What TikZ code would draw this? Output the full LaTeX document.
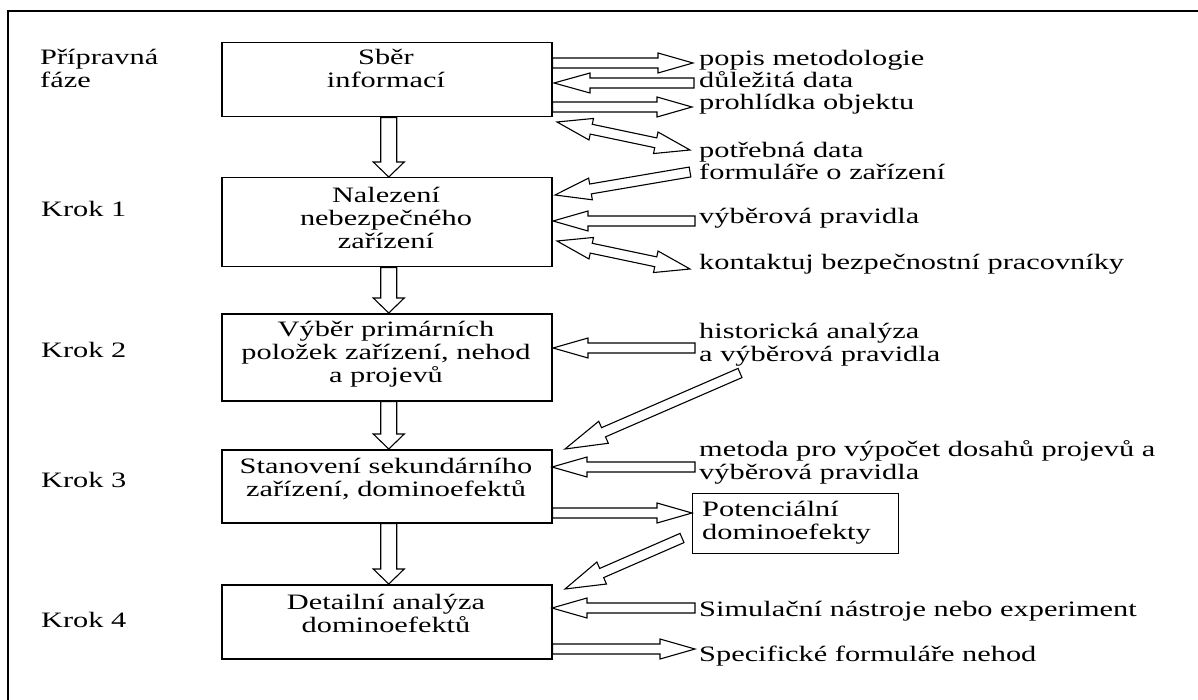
\documentclass[tikz,border=0pt]{standalone}
\usepackage{fontspec}
\setmainfont[FakeStretch=1.38]{Liberation Serif}
\usetikzlibrary{calc}

% Block arrow with one head: tail, tip, head length, shaft half-width, head half-width
\newcommand\singlearrow[5]{%
  \coordinate (hb) at ($(#2)!#3!(#1)$);
  \draw[arrowline] ($(#1)!#4!90:(#2)$) -- ($(hb)!#4!-90:(#1)$) -- ($(hb)!#5!-90:(#1)$)
    -- (#2) -- ($(hb)!#5!90:(#1)$) -- ($(hb)!#4!90:(#1)$) -- ($(#1)!#4!-90:(#2)$) -- cycle;
}
% Block arrow with a head at both ends
\newcommand\doublearrow[5]{%
  \coordinate (ha) at ($(#1)!#3!(#2)$);
  \coordinate (hb) at ($(#2)!#3!(#1)$);
  \draw[arrowline] (#1) -- ($(ha)!#5!90:(#2)$) -- ($(ha)!#4!90:(#2)$)
    -- ($(hb)!#4!-90:(#1)$) -- ($(hb)!#5!-90:(#1)$) -- (#2)
    -- ($(hb)!#5!90:(#1)$) -- ($(hb)!#4!90:(#1)$)
    -- ($(ha)!#4!-90:(#2)$) -- ($(ha)!#5!-90:(#2)$) -- cycle;
}

\tikzset{
  frame/.style={line width=1.4pt},
  stepbox/.style={draw, line width=1.5pt, rectangle, inner sep=0pt, anchor=north west},
  txt/.style={inner sep=0pt, font=\fontsize{22}{23}\selectfont},
  boxtxt/.style={txt, align=center, anchor=base},
  sidetxt/.style={txt, align=left, anchor=base west},
  arrowline/.style={draw, fill=white, line width=1.1pt, line join=miter},
}

\begin{document}
\begin{tikzpicture}[x=1pt, y=-1pt]
\useasboundingbox (0,0) rectangle (1198,700);
\draw[frame] (8,700) -- (8,11) -- (1198,11);

% phase labels (multi-line nodes are placed by the baseline of their last line)
\node[sidetxt] (p0) at (40,88) {Přípravná\\fáze};
\node[sidetxt] (p1) at (41,217) {Krok 1};
\node[sidetxt] (p2) at (41,357) {Krok 2};
\node[sidetxt] (p3) at (41,487) {Krok 3};
\node[sidetxt] (p4) at (41,627) {Krok 4};

% main steps
\node[stepbox, minimum width=330pt, minimum height=74pt] (b1) at (221,42) {};
\node[stepbox, minimum width=330pt, minimum height=89pt] (b2) at (221,177) {};
\node[stepbox, minimum width=330pt, minimum height=87pt] (b3) at (221,313) {};
\node[stepbox, minimum width=330pt, minimum height=73pt] (b4) at (221,449) {};
\node[stepbox, minimum width=330pt, minimum height=74pt] (b5) at (221,584) {};

\node[boxtxt] (t1) at (386,88) {Sběr\\informací};
\node[boxtxt] (t2) at (386,249) {Nalezení\\nebezpečného\\zařízení};
\node[boxtxt] (t3) at (386,382) {Výběr primárních\\položek zařízení, nehod\\a projevů};
\node[boxtxt] (t4) at (386,496) {Stanovení sekundárního\\zařízení, dominoefektů};
\node[boxtxt] (t5) at (386,632) {Detailní analýza\\dominoefektů};

% inputs and outputs
\node[sidetxt] (r1) at (699,66) {popis metodologie};
\node[sidetxt] (r2) at (699,88) {důležitá data};
\node[sidetxt] (r3) at (699,110) {prohlídka objektu};
\node[sidetxt] (r4) at (699,158) {potřebná data};
\node[sidetxt] (r5) at (699,180) {formuláře o zařízení};
\node[sidetxt] (r6) at (699,224) {výběrová pravidla};
\node[sidetxt] (r7) at (699,270) {kontaktuj bezpečnostní pracovníky};
\node[sidetxt] (r8) at (699,361) {historická analýza\\a výběrová pravidla};
\node[sidetxt] (r9) at (699,479) {metoda pro výpočet dosahů projevů a\\výběrová pravidla};
\node[draw, line width=1.3pt, inner sep=0pt, anchor=north west,
      minimum width=206pt, minimum height=60pt] (pd) at (692,493) {};
\node[sidetxt] (pdt) at (702,539) {Potenciální\\dominoefekty};
\node[sidetxt] (r10) at (699,616) {Simulační nástroje nebo experiment};
\node[sidetxt] (r11) at (699,661) {Specifické formuláře nehod};

% flow between steps
\coordinate (d1s) at ([xshift=2pt]b1.south);
\coordinate (d1e) at ([xshift=2pt]b2.north);
\coordinate (d2s) at ([xshift=2pt]b2.south);
\coordinate (d2e) at ([xshift=2pt]b3.north);
\coordinate (d3s) at ([xshift=2pt]b3.south);
\coordinate (d3e) at ([xshift=2pt]b4.north);
\coordinate (d4s) at ([xshift=2pt]b4.south);
\coordinate (d4e) at ([xshift=2pt]b5.north);
\singlearrow{d1s}{d1e}{15pt}{8pt}{15.5pt}
\singlearrow{d2s}{d2e}{15pt}{8pt}{15.5pt}
\singlearrow{d3s}{d3e}{15pt}{8pt}{15.5pt}
\singlearrow{d4s}{d4e}{15pt}{8pt}{15.5pt}

% side arrows
\coordinate (a1s) at (b1.east |- 0,63);   \coordinate (a1e) at (693,63);
\coordinate (a2s) at (694,83);            \coordinate (a2e) at (554,83);
\coordinate (a3s) at (b1.east |- 0,107);  \coordinate (a3e) at (692,107);
\coordinate (a4s) at (557,122);           \coordinate (a4e) at (690,150);
\coordinate (a5s) at (690,172);           \coordinate (a5e) at (555,195);
\coordinate (a6s) at (695,221);           \coordinate (a6e) at (553,221);
\coordinate (a7s) at (557,241);           \coordinate (a7e) at (690,269);
\coordinate (a8s) at (695,348);           \coordinate (a8e) at (553,348);
\coordinate (a9s) at (740,373);           \coordinate (a9e) at (565,449);
\coordinate (a10s) at (695,467);          \coordinate (a10e) at (552,467);
\coordinate (a11s) at (b4.east |- 0,513); \coordinate (a11e) at (pd.west |- 0,513);
\coordinate (a12s) at (682,538);          \coordinate (a12e) at (565,589);
\coordinate (a13s) at (695,608);          \coordinate (a13e) at (552,608);
\coordinate (a14s) at (b5.east |- 0,649); \coordinate (a14e) at (695,649);

\singlearrow{a1s}{a1e}{35pt}{5pt}{10pt}
\singlearrow{a2s}{a2e}{36pt}{5pt}{10pt}
\singlearrow{a3s}{a3e}{35pt}{5pt}{10pt}
\doublearrow{a4s}{a4e}{35pt}{5pt}{11pt}
\singlearrow{a5s}{a5e}{36pt}{5pt}{11pt}
\singlearrow{a6s}{a6e}{35pt}{5pt}{10pt}
\doublearrow{a7s}{a7e}{35pt}{5pt}{11pt}
\singlearrow{a8s}{a8e}{35pt}{5pt}{10pt}
\singlearrow{a9s}{a9e}{42pt}{5pt}{12pt}
\singlearrow{a10s}{a10e}{35pt}{5pt}{10pt}
\singlearrow{a11s}{a11e}{35pt}{5pt}{10pt}
\singlearrow{a12s}{a12e}{40pt}{5pt}{12pt}
\singlearrow{a13s}{a13e}{35pt}{5pt}{10pt}
\singlearrow{a14s}{a14e}{35pt}{5pt}{10pt}
\end{tikzpicture}
\end{document}
